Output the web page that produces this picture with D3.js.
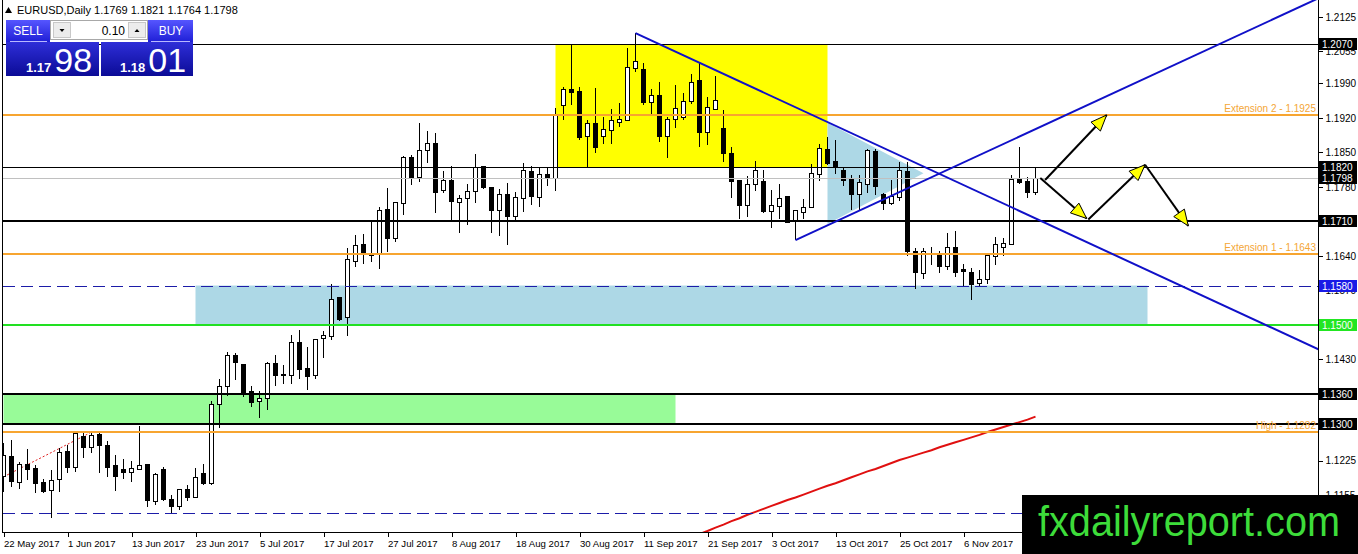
<!DOCTYPE html>
<html><head><meta charset="utf-8">
<script src="https://cdn.jsdelivr.net/npm/d3@7"></script>
<style>
html,body{margin:0;padding:0;background:#fff;overflow:hidden;}
svg{display:block;font-family:"Liberation Sans",Arial,sans-serif;}
</style></head><body>
<svg id="c" width="1358" height="554"></svg>
<script>
// ---------- DATA ----------
const symbolTitle = "EURUSD,Daily";
const lastQuote = [1.1769, 1.1821, 1.1764, 1.1798];
const opens = [1.1192,1.1234,1.1181,1.1217,1.1209,1.1181,1.1164,1.1186,1.1243,1.1211,1.1274,1.1252,1.1277,1.1255,1.1214,1.1206,1.1201,1.1207,1.1218,1.1142,
1.1206,1.1146,1.1131,1.1167,1.1150,1.1198,1.1178,1.1338,1.1375,1.1439,1.1419,1.1365,1.1345,1.1351,1.1422,1.1398,1.1397,1.1465,1.1412,1.1397,
1.1472,1.1477,1.1555,1.1515,1.1629,1.1664,1.1644,1.1644,1.1735,1.1676,1.1747,1.1840,1.1799,1.1854,1.1868,1.1772,1.1793,1.1748,1.1757,1.1770,
1.1821,1.1779,1.1732,1.1765,1.1721,1.1757,1.1811,1.1759,1.1806,1.1798,1.1946,1.1977,1.1973,1.1882,1.1908,1.1882,1.1895,1.1911,1.1914,1.2021,
1.2019,1.1951,1.1966,1.1883,1.1917,1.1921,1.1953,1.1995,1.1890,1.1938,1.1899,1.1847,1.1794,1.1742,1.1784,1.1792,1.1730,1.1740,1.1760,1.1712,
1.1728,1.1739,1.1806,1.1857,1.1831,1.1813,1.1797,1.1764,1.1784,1.1852,1.1764,1.1747,1.1759,1.1811,1.1649,1.1605,1.1646,1.1644,1.1618,1.1657,
1.1613,1.1607,1.1585,1.1593,1.1639,1.1658,1.1664,1.1795,1.1791,1.1769];
const highs = [1.1260,1.1267,1.1222,1.1248,1.1216,1.1188,1.1205,1.1250,1.1257,1.1282,1.1280,1.1282,1.1282,1.1265,1.1236,1.1229,1.1224,1.1295,1.1218,1.1199,
1.1211,1.1155,1.1166,1.1175,1.1209,1.1218,1.1346,1.1390,1.1445,1.1443,1.1419,1.1376,1.1366,1.1424,1.1439,1.1418,1.1480,1.1490,1.1455,1.1471,
1.1487,1.1583,1.1555,1.1657,1.1683,1.1685,1.1710,1.1739,1.1777,1.1750,1.1843,1.1845,1.1909,1.1894,1.1889,1.1813,1.1823,1.1764,1.1786,1.1847,
1.1821,1.1779,1.1775,1.1789,1.1770,1.1828,1.1822,1.1821,1.1821,1.1941,1.1983,1.2071,1.1983,1.1916,1.1980,1.1921,1.1939,1.1951,1.2061,1.2092,
1.2031,1.1978,1.1993,1.1921,1.1987,1.1971,1.2010,1.2031,1.1962,1.2006,1.1937,1.1862,1.1794,1.1802,1.1833,1.1814,1.1774,1.1787,1.1762,1.1733,
1.1755,1.1826,1.1868,1.1882,1.1875,1.1818,1.1804,1.1804,1.1858,1.1858,1.1767,1.1794,1.1831,1.1831,1.1656,1.1657,1.1659,1.1651,1.1686,1.1691,
1.1624,1.1615,1.1612,1.1647,1.1679,1.1676,1.1804,1.1862,1.1801,1.1821];
const lows = [1.1162,1.1172,1.1167,1.1186,1.1159,1.1159,1.1108,1.1162,1.1199,1.1202,1.1230,1.1240,1.1200,1.1192,1.1164,1.1188,1.1182,1.1206,1.1130,1.1135,
1.1142,1.1117,1.1125,1.1142,1.1150,1.1175,1.1175,1.1291,1.1356,1.1388,1.1353,1.1334,1.1311,1.1328,1.1376,1.1380,1.1380,1.1390,1.1368,1.1390,
1.1434,1.1470,1.1509,1.1477,1.1617,1.1624,1.1628,1.1613,1.1649,1.1669,1.1723,1.1784,1.1791,1.1829,1.1728,1.1767,1.1712,1.1687,1.1703,1.1748,
1.1775,1.1686,1.1681,1.1662,1.1708,1.1730,1.1743,1.1740,1.1782,1.1772,1.1916,1.1946,1.1875,1.1820,1.1848,1.1867,1.1867,1.1902,1.1914,1.2014,
1.1946,1.1929,1.1872,1.1838,1.1899,1.1916,1.1948,1.1862,1.1865,1.1936,1.1831,1.1757,1.1716,1.1720,1.1772,1.1728,1.1696,1.1716,1.1708,1.1672,
1.1716,1.1737,1.1792,1.1825,1.1806,1.1781,1.1733,1.1733,1.1767,1.1764,1.1733,1.1743,1.1752,1.1640,1.1574,1.1593,1.1622,1.1606,1.1611,1.1598,
1.1578,1.1551,1.1578,1.1583,1.1622,1.1639,1.1662,1.1786,1.1757,1.1764];
const closes = [1.1236,1.1182,1.1217,1.1207,1.1179,1.1162,1.1184,1.1242,1.1211,1.1279,1.1251,1.1275,1.1255,1.1211,1.1192,1.1201,1.1209,1.1215,1.1144,1.1196,
1.1146,1.1131,1.1167,1.1150,1.1191,1.1179,1.1338,1.1376,1.1439,1.1424,1.1358,1.1343,1.1350,1.1422,1.1397,1.1400,1.1465,1.1410,1.1395,1.1470,
1.1478,1.1552,1.1512,1.1632,1.1662,1.1644,1.1641,1.1733,1.1676,1.1749,1.1840,1.1799,1.1854,1.1868,1.1768,1.1793,1.1750,1.1756,1.1770,1.1820,
1.1779,1.1732,1.1765,1.1720,1.1759,1.1813,1.1760,1.1806,1.1797,1.1924,1.1978,1.1971,1.1881,1.1909,1.1860,1.1896,1.1914,1.1916,1.2023,1.2035,
1.1951,1.1966,1.1882,1.1917,1.1939,1.1954,1.1992,1.1890,1.1941,1.1955,1.1847,1.1791,1.1742,1.1786,1.1814,1.1730,1.1743,1.1757,1.1708,1.1732,
1.1738,1.1808,1.1858,1.1827,1.1822,1.1793,1.1764,1.1789,1.1854,1.1781,1.1747,1.1760,1.1813,1.1649,1.1606,1.1649,1.1645,1.1618,1.1657,1.1606,
1.1608,1.1583,1.1593,1.1640,1.1664,1.1666,1.1795,1.1789,1.1768,1.1798];

// moving average (red) from bar 86 to 129
const maStartBar = 86;
const maValues = [1.1069,1.1076,1.1082,1.1089,1.1095,1.1102,1.1108,1.1115,1.1121,1.1127,1.1133,1.1139,1.1145,1.1150,1.1156,1.1162,1.1168,1.1174,1.1179,1.1185,
1.1191,1.1197,1.1203,1.1208,1.1214,1.1220,1.1226,1.1231,1.1236,1.1241,1.1246,1.1252,1.1257,1.1262,1.1267,1.1272,1.1277,1.1283,1.1288,1.1293,
1.1298,1.1303,1.1308,1.1314];

const xTickBars = [0,8,16,24,32,40,48,56,64,72,80,88,96,104,112,120];
const xTickLabels = ["22 May 2017","1 Jun 2017","13 Jun 2017","23 Jun 2017","5 Jul 2017","17 Jul 2017","27 Jul 2017","8 Aug 2017","18 Aug 2017","30 Aug 2017","11 Sep 2017","21 Sep 2017","3 Oct 2017","13 Oct 2017","25 Oct 2017","6 Nov 2017"];
// scale ticks (those equal to a marked level are shown by the level's box)
const yTicks = [1.2125,1.2055,1.1990,1.1920,1.1850,1.1780,1.1640,1.1570,1.1430,1.1225,1.1155];

// horizontal levels
const levelBlack = [1.2070, 1.1820, 1.1710, 1.1360, 1.1300];
const levelBlackThick = [1.1710, 1.1360, 1.1300];
const levelBid = 1.1798;
const levelOrange = [1.1925, 1.1643, 1.1282];
const levelOrangeNames = ["Extension 2 - 1.1925", "Extension 1 - 1.1643", "High - 1.1282"];
const levelDashed = [1.1580, 1.1118];
const levelGreen = 1.1500;

// zones [fromBar, toBar, top, bottom]
const zoneYellow = [69, 103, 1.2070, 1.1820];
const zoneBlue = [24, 143, 1.1580, 1.1500];
const zoneGreen = [0, 84, 1.1360, 1.1300];
const triangleZone = [[103, 1.1910], [103, 1.1705], [115, 1.1808]];

// trendlines [bar, price] pairs (rays)
const trendDown = [[79, 1.2092], [164.3, 1.1451]];
const trendUp = [[99, 1.1672], [163.06, 1.2153]];
const redDotted = [[0, 1.1192], [10.8, 1.1281]];

// projection arrows [[bar,price],[bar,price]]
const arrowSegs = [
  [[130.2, 1.1794], [137.9, 1.1926]],
  [[129.6, 1.1798], [135.4, 1.1716]],
  [[135.6, 1.1714], [142.7, 1.1825]],
  [[142.7, 1.1825], [148.1, 1.1701]]
];

// ---------- DRAWING ----------
const svg = d3.select("#c");
const P = {left: 2.5, right: 1318.5, top: 0, bottom: 532.5};
const x = d3.scaleLinear().domain([0, 129]).range([3.5, 1035.5]);
const y = d3.scaleLinear().domain([1.1360, 1.2070]).range([394, 44]);

svg.append("rect").attr("width", 1358).attr("height", 554).attr("fill", "#fff");
svg.append("defs").append("clipPath").attr("id", "clip")
  .append("rect").attr("x", P.left + 0.5).attr("y", P.top).attr("width", P.right - P.left - 1).attr("height", P.bottom - P.top - 0.5);
const g = svg.append("g").attr("clip-path", "url(#clip)");

// zones
function zone(z, fill) {
  g.append("rect").attr("x", x(z[0])).attr("width", x(z[1]) - x(z[0]))
    .attr("y", y(z[2])).attr("height", y(z[3]) - y(z[2])).attr("fill", fill);
}
zone(zoneYellow, "#ffff00");
zone(zoneBlue, "#add8e6");
zone(zoneGreen, "#98fb98");
g.append("path").attr("d", d3.line().x(d => x(d[0])).y(d => y(d[1]))(triangleZone) + "Z").attr("fill", "#add8e6");

// red dotted trendline
g.append("line").attr("x1", x(redDotted[0][0])).attr("y1", y(redDotted[0][1]))
  .attr("x2", x(redDotted[1][0])).attr("y2", y(redDotted[1][1]))
  .attr("stroke", "#e02020").attr("stroke-width", 1).attr("stroke-dasharray", "2,2");

// candles
const bars = d3.range(opens.length).map(i => ({i, o: opens[i], h: highs[i], l: lows[i], c: closes[i]}));
const cg = g.append("g").attr("shape-rendering", "crispEdges");
cg.selectAll("line.w").data(bars).join("line").attr("class", "w")
  .attr("x1", d => x(d.i)).attr("x2", d => x(d.i))
  .attr("y1", d => y(d.h)).attr("y2", d => y(d.l)).attr("stroke", "#000").attr("stroke-width", 1);
cg.selectAll("rect.b").data(bars).join("rect").attr("class", "b")
  .attr("x", d => x(d.i) - 2).attr("width", 4)
  .attr("y", d => y(Math.max(d.o, d.c)))
  .attr("height", d => Math.max(0.01, Math.abs(y(d.o) - y(d.c))))
  .attr("fill", d => d.c >= d.o ? "#fff" : "#000")
  .attr("stroke", "#000").attr("stroke-width", 1);

// MA line
g.append("path").datum(maValues)
  .attr("d", d3.line().x((d, k) => x(maStartBar + k)).y(d => y(d)))
  .attr("fill", "none").attr("stroke", "#e01010").attr("stroke-width", 2);

// horizontal lines
const hg = g.append("g").attr("shape-rendering", "crispEdges");
function hline(p, color, w, dash) {
  const yy = Math.round(y(p)) + (w % 2 ? 0.5 : 0);
  const l = hg.append("line").attr("x1", P.left).attr("x2", P.right).attr("y1", yy).attr("y2", yy)
    .attr("stroke", color).attr("stroke-width", w);
  if (dash) l.attr("stroke-dasharray", dash);
}
hline(levelBid, "#c0c0c0", 1);
levelBlack.forEach(p => hline(p, "#000", levelBlackThick.includes(p) ? 2 : 1));
levelOrange.forEach(p => hline(p, "#f7a530", 2));
levelDashed.forEach(p => hline(p, "#1c1ca8", 1, "12,6"));
hline(levelGreen, "#22e022", 2);

// trendlines (rays)
function ray(pts, color) {
  const x1 = x(pts[0][0]), y1 = y(pts[0][1]), x2 = x(pts[1][0]), y2 = y(pts[1][1]);
  const k = 3;
  g.append("line").attr("x1", x1).attr("y1", y1).attr("x2", x1 + (x2 - x1) * k).attr("y2", y1 + (y2 - y1) * k)
    .attr("stroke", color).attr("stroke-width", 2);
}
ray(trendDown, "#1010c8");
ray(trendUp, "#1010c8");

// orange level names
const ol = g.append("g").attr("font-size", 10).attr("fill", "#f4a636").attr("text-anchor", "end");
levelOrange.forEach((p, k) => {
  ol.append("text").attr("x", 1316).attr("y", y(p) - 3).text(levelOrangeNames[k]);
});

// arrows
const ag = g.append("g");
arrowSegs.forEach(s => {
  const x1 = x(s[0][0]), y1 = y(s[0][1]), x2 = x(s[1][0]), y2 = y(s[1][1]);
  ag.append("line").attr("x1", x1).attr("y1", y1).attr("x2", x2).attr("y2", y2)
    .attr("stroke", "#000").attr("stroke-width", 2);
  const dx = x2 - x1, dy = y2 - y1, L = Math.hypot(dx, dy), ux = dx / L, uy = dy / L;
  const len = 16, hw = 6.5, bx = x2 - ux * len, by = y2 - uy * len;
  ag.append("path").attr("d", `M${x2},${y2}L${bx - uy * hw},${by + ux * hw}L${bx + uy * hw},${by - ux * hw}Z`)
    .attr("fill", "#ffff00").attr("stroke", "#000").attr("stroke-width", 1);
});

// frame
const fr = svg.append("g").attr("shape-rendering", "crispEdges").attr("stroke", "#000");
fr.append("line").attr("x1", P.left).attr("x2", P.left).attr("y1", 0).attr("y2", P.bottom);
fr.append("line").attr("x1", P.right).attr("x2", P.right).attr("y1", 0).attr("y2", P.bottom);
fr.append("line").attr("x1", P.left).attr("x2", P.right).attr("y1", P.bottom).attr("y2", P.bottom);

// y axis
const ya = svg.append("g").attr("transform", `translate(${P.right},0)`)
  .call(d3.axisRight(y).tickValues(yTicks).tickFormat(d3.format(".4f")).tickSize(4).tickPadding(3));
ya.select(".domain").remove();
ya.selectAll("text").attr("font-size", 10).attr("font-family", "Liberation Sans, Arial, sans-serif").attr("fill", "#000");
ya.selectAll("line").attr("stroke", "#000").attr("shape-rendering", "crispEdges");

// x axis
const xa = svg.append("g").attr("transform", `translate(0,${P.bottom})`)
  .call(d3.axisBottom(x).tickValues(xTickBars).tickFormat((d, k) => xTickLabels[k]).tickSize(4).tickPadding(4));
xa.select(".domain").remove();
xa.selectAll("text").attr("font-size", 9.6).attr("font-family", "Liberation Sans, Arial, sans-serif")
  .attr("text-anchor", "start").attr("dx", 0).attr("fill", "#000");
xa.selectAll("line").attr("stroke", "#000").attr("shape-rendering", "crispEdges");

// price boxes on axis
const boxLevels = [1.2070, 1.1820, levelBid, 1.1710, 1.1580, 1.1500, 1.1360, 1.1300];
const boxFill = p => p === 1.1580 ? "#1a1ae6" : (p === 1.1500 ? "#22e622" : "#000");
const bg = svg.append("g");
boxLevels.forEach(p => {
  const yy = Math.round(y(p));
  bg.append("rect").attr("x", 1319).attr("y", yy - 6).attr("width", 38).attr("height", 12).attr("fill", boxFill(p));
  bg.append("text").attr("x", 1322).attr("y", yy + 4).attr("font-size", 10).attr("fill", "#fff").text(d3.format(".4f")(p));
});

// header
const hd = svg.append("g");
hd.append("path").attr("d", "M5,13L8.5,7L12,13Z").attr("fill", "#000");
hd.append("text").attr("x", 17).attr("y", 14).attr("font-size", 11).attr("fill", "#000")
  .text(symbolTitle + "  " + lastQuote.map(d3.format(".4f")).join(" "));

// trade panel
const defs = svg.select("defs");
const g1 = defs.append("linearGradient").attr("id", "btn").attr("x1", 0).attr("y1", 0).attr("x2", 0).attr("y2", 1);
g1.append("stop").attr("offset", "0").attr("stop-color", "#5656ff");
g1.append("stop").attr("offset", "1").attr("stop-color", "#1f1fd6");
const g2 = defs.append("linearGradient").attr("id", "pbox").attr("x1", 0).attr("y1", 0).attr("x2", 0).attr("y2", 1);
g2.append("stop").attr("offset", "0").attr("stop-color", "#2e2ed8");
g2.append("stop").attr("offset", "1").attr("stop-color", "#0b0b96");
const pn = svg.append("g");
pn.append("rect").attr("x", 6).attr("y", 20).attr("width", 44).attr("height", 22).attr("fill", "url(#btn)");
pn.append("rect").attr("x", 148).attr("y", 20).attr("width", 45).attr("height", 22).attr("fill", "url(#btn)");
pn.append("line").attr("x1", 10).attr("x2", 47).attr("y1", 41.5).attr("y2", 41.5).attr("stroke", "#b8b8ff");
pn.append("line").attr("x1", 151).attr("x2", 190).attr("y1", 41.5).attr("y2", 41.5).attr("stroke", "#b8b8ff");
pn.append("text").attr("x", 28).attr("y", 35).attr("text-anchor", "middle").attr("font-size", 12).attr("fill", "#fff").text("SELL");
pn.append("text").attr("x", 171).attr("y", 35).attr("text-anchor", "middle").attr("font-size", 12).attr("fill", "#fff").text("BUY");
pn.append("rect").attr("x", 50.5).attr("y", 20.5).attr("width", 97).attr("height", 19).attr("fill", "#fff").attr("stroke", "#a8a8a8");
pn.append("rect").attr("x", 53.5).attr("y", 22.5).attr("width", 17).attr("height", 15).attr("fill", "#ececec").attr("stroke", "#c8c8c8");
pn.append("rect").attr("x", 128.5).attr("y", 22.5).attr("width", 17).attr("height", 15).attr("fill", "#ececec").attr("stroke", "#c8c8c8");
pn.append("path").attr("d", "M59.5,29L64.5,29L62,32Z").attr("fill", "#000");
pn.append("path").attr("d", "M134.5,32L139.5,32L137,29Z").attr("fill", "#000");
pn.append("text").attr("x", 125).attr("y", 35).attr("text-anchor", "end").attr("font-size", 12).attr("fill", "#000").text("0.10");
pn.append("rect").attr("x", 6).attr("y", 42).attr("width", 93).attr("height", 34).attr("fill", "url(#pbox)");
pn.append("rect").attr("x", 101).attr("y", 42).attr("width", 92).attr("height", 34).attr("fill", "url(#pbox)");
const bid = d3.format(".4f")(lastQuote[3]);
const ask = "1.1801";
function priceText(px, str) {
  const t = pn.append("text").attr("x", px).attr("y", 72).attr("fill", "#fff");
  t.append("tspan").attr("font-size", 13).attr("font-weight", "bold").text(str.slice(0, 4));
  t.append("tspan").attr("font-size", 34).attr("dx", 3).text(str.slice(4));
}
priceText(26, bid);
priceText(120, ask);

// watermark
svg.append("rect").attr("x", 1022).attr("y", 495).attr("width", 336).attr("height", 59).attr("fill", "#000");
svg.append("text").attr("x", 1038).attr("y", 536).attr("font-size", 42).attr("fill", "#3ddc3a")
  .attr("textLength", 302).attr("lengthAdjust", "spacingAndGlyphs").text("fxdailyreport.com");
</script>
</body></html>
